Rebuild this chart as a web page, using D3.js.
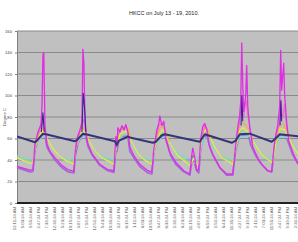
<!DOCTYPE html>
<html>
<head>
<meta charset="utf-8">
<script src="https://cdn.jsdelivr.net/npm/d3@7"></script>
<style>
  body { margin: 0; background: #fff; }
  svg { display: block; font-family: "Liberation Sans", Arial, sans-serif; }
</style>
</head>
<body>
<script>
// Chart data: hours since start of July 13 log, temperature in degrees C
const title = "HKCC on July 13 - 19, 2010.";
const yTitle = "Degree C";
const yTicks = [0, 20, 40, 60, 80, 100, 120, 140, 160];

const timeLabels = [
  "12:11:24 AM", "5:03:24 AM", "9:55:24 AM", "2:47:24 PM", "7:39:24 PM",
  "12:31:24 AM", "5:23:24 AM", "10:15:24 AM", "3:07:24 PM", "7:59:24 PM",
  "12:51:24 AM", "5:43:24 AM", "10:35:24 AM", "3:27:24 PM", "8:19:24 PM",
  "1:11:24 AM", "6:03:24 AM", "10:55:24 AM", "3:47:24 PM", "8:39:24 PM",
  "1:31:24 AM", "6:23:24 AM", "11:15:24 AM", "4:07:24 PM", "8:59:24 PM",
  "1:51:24 AM", "6:43:24 AM", "11:35:24 AM", "4:27:24 PM", "9:19:24 PM",
  "2:11:24 AM", "7:03:24 AM", "11:55:24 AM", "4:47:24 PM", "9:39:24 PM",
  "2:31:24 AM"
];

// each series: [hour, value] pairs, null = gap
const collectorLow = [
  [0,33],[7.8,29],[9.6,29.5],[10.8,50],[13,60],[15.6,64],[16.8,63],[18,52],[19.8,47],[22.8,40],[27,33],[30.6,29],[34.2,28],
  [34.8,42],[36.6,56],[39.6,64],[41.4,62],[42.6,53],[45,45],[49.8,35],[54.6,30],[58.2,28.5],
  [59.4,50],[60,48],[61.2,58],[64.2,62],[66.6,62],[67.8,48],[70.2,42],[73.8,34],[78.6,28],[81,27],
  [82.2,48],[84.6,60],[88.8,63],[90,56],[92.4,44],[95.4,36],[100.2,29],[103.8,26],[105,38],[105.8,44],[106.8,36],[108,30],[109.2,28],
  [110.4,52],[112.8,63],[114.6,60],[115.8,52],[117.6,45],[121.8,33],[126,26],[129.6,26],
  [131.4,50],[133.8,63],[139.2,62],[140.4,54],[143.4,44],[147,36],[150.6,30],[153,29],
  [154.8,52],[157.8,63],[161.4,63],[162.6,58],[165.6,45],[168.6,37],[170,35]
];

const collectorTop = [
  [0,34],[7.8,30.5],[9.6,31],[10.8,55],[12.6,66],[14.4,73],[15,90],[15.6,138],[16.1,140],[16.5,100],[16.8,72],[18,55],[19.8,48],[22.8,42],[27,35],[30.6,31],[34.2,29.5],
  [34.8,45],[36,60],[37.8,68],[39,75],[39.6,143],[40.2,130],[40.8,80],[41.4,63],[42.6,55],[45,46],[49.8,36],[54.6,31],[58.2,30],
  [59.4,62],[60,52],[60.6,70],[61.8,66],[63,72],[64.2,68],[65.4,73],[66.6,66],[67.8,52],[70.2,44],[73.8,36],[78.6,30],[81,29],
  [82.2,50],[84,68],[85.2,74],[85.8,81],[87,72],[88.2,76],[89.4,60],[91.8,47],[95.4,38],[100.2,30],[103.8,27],
  [105,45],[105.6,51],[106.8,42],[108,30],[109.2,32],
  [110.4,60],[111.6,71],[112.8,74],[114,68],[115.2,55],[117.6,45],[121.8,33],[126,27],[129.6,27],
  [131.4,55],[132.6,70],[133.8,82],[134.4,95],[135,149],[135.6,110],[136.2,85],[137.4,100],[138,128],[138.6,90],[139.8,70],[141.6,52],[145.8,38],[150.6,30],[153,29],
  [154.8,58],[156.6,72],[157.8,90],[158.4,142],[159,105],[160.2,130],[160.8,100],[162,75],[163.2,58],[166.2,45],[168.6,37],[170,35]
];

const collectorMid = [
  [10.8,54],[12.6,64],[14.4,71],[15.6,76],[16.8,66],[18,56], null,
  [35.4,52],[37.8,66],[39,72],[40.2,78],[41.4,64],[42.6,57], null,
  [59.4,58],[61.8,68],[63,70],[65.4,71],[66.6,66],[67.8,54], null,
  [82.8,54],[85.2,72],[87,74],[88.2,73],[89.4,62], null,
  [110.4,58],[112.8,72],[114,70],[115.2,58], null,
  [131.4,56],[133.8,76],[134.6,92],[135.4,84],[136.2,80],[137.6,96],[138.4,84],[139.8,72],[141.6,56], null,
  [155.4,60],[157.8,76],[158.6,96],[159.4,82],[160,80],[160.6,92],[162,70],[163.2,60]
];

const orange = [
  [10.8,52],[13.8,67],[15.6,70],[16.8,66],[18,60], null,
  [35.4,52],[37.8,67],[39.6,71],[41.4,66],[42.6,60], null,
  [59.4,52],[61.8,68],[64.2,69],[66.6,70],[68.4,60], null,
  [82.8,54],[85.8,70],[87.6,71],[89.4,66],[91.8,57], null,
  [110.4,56],[112.8,71],[114.6,68],[116,60], null,
  [131.4,55],[133.8,72],[136,75],[139.8,68],[141.6,58], null,
  [155.4,56],[157.8,73],[160,74],[162.6,65],[164,60]
];

const yellow = [
  [0,42],[7.8,37],[9.6,37],[10.8,52],[13.8,64],[15.6,67],[16.8,64],[18,60],[21,52],[24.6,45],[28.8,40],[34.2,36],
  [35.4,52],[37.8,64],[39.6,68],[41.4,64],[42.6,60],[46.2,50],[51,42],[58.2,36],
  [59.4,50],[61.8,64],[64.2,66],[66.6,67],[68.4,58],[72.6,46],[77.4,39],[81,36],
  [82.8,52],[85.8,65],[87.6,68],[89.4,64],[91.8,56],[96.6,44],[103.8,35],[105,38],[106.2,42],[108,36],[109.2,36],
  [110.4,54],[112.8,68],[114.6,66],[118.8,52],[123,42],[129.6,36],
  [131.4,52],[133.8,68],[136,70],[139.8,64],[142.8,55],[147,45],[151.8,39],[153.6,37],
  [155.4,54],[157.8,69],[161,68],[162.6,62],[165,55],[168.6,46],[170,45]
];

const green = [
  [0,43],[7.8,38.5],[9.6,38.5],[10.8,52],[13.8,62],[15.6,65],[16.8,63],[18,60],[21,52],[24.6,45],[28.8,41],[34.2,38],
  [35.4,52],[37.8,62],[39.6,66],[41.4,63],[42.6,60],[46.2,50],[51,42],[58.2,38],
  [59.4,50],[61.8,62],[64.2,64],[66.6,65],[68.4,57],[72.6,46],[77.4,40],[81,38],
  [82.8,52],[85.8,63],[87.6,66],[89.4,63],[91.8,56],[96.6,45],[103.8,37],[109.2,37],
  [110.4,53],[112.8,66],[114.6,64],[118.8,51],[123,43],[129.6,38],
  [131.4,52],[133.8,66],[136,67],[139.8,63],[142.8,55],[147,45],[151.8,40],[153.6,38],
  [155.4,53],[157.8,67],[161,66],[162.6,61],[165,55],[168.6,47],[170,46]
];

const cyan = [
  [0,44],[7.8,40],[9.6,40],[10.8,52],[13.8,60],[16.2,62],[18,60],[21,52],[24.6,45],[28.8,41],[34.2,40],
  [35.4,52],[37.8,60],[40.8,62],[42.6,60],[46.2,50],[51,43],[58.2,40],
  [59.4,50],[61.8,60],[66.6,62],[68.4,56],[72.6,45],[77.4,41],[81,40],
  [82.8,52],[85.8,60],[89.4,62],[91.8,56],[96.6,46],[101.4,42],[109.2,40],
  [110.4,52],[112.8,61],[115.2,60],[118.8,50],[123,43],[129.6,40],
  [131.4,52],[133.8,62],[139.8,62],[142.8,54],[147,45],[151.8,41],[153.6,40],
  [155.4,52],[157.8,62],[162.6,61],[165,55],[168.6,48],[170,47]
];

const indigo = [
  [14.6,66],[15.6,84],[16.4,66], null,
  [39,66],[39.8,102],[40.6,88],[41.4,66], null,
  [134.6,72],[135.1,100],[135.6,76], null,
  [158,72],[158.5,95],[159,76]
];

const tank = [
  [0,62],[10.8,56.5],[12,58],[15.6,64.5],[17.4,64],[34.8,57.5],[36,58.5],[39.6,64.5],[41.4,64],
  [58.8,57.5],[60,54],[61.2,58],[64.2,60],[66.6,62],[67.8,61],[81.6,56],[83.4,57],[87,63],[88.8,64],
  [109.8,57],[112.8,64],[129,56],[131.4,58],[133.8,64],[139.8,64.5],[153,57],[155.4,60],[157.8,64],[168.6,62],[170,61.7]
];

const series = [
  { data: collectorLow, color: "#a26ad8", width: 1.8 },
  { data: cyan, color: "#72d9e6", width: 1.1 },
  { data: green, color: "#92e074", width: 1.1 },
  { data: yellow, color: "#ecea4c", width: 1.1 },
  { data: orange, color: "#f4a93a", width: 1.1 },
  { data: collectorMid, color: "#f06acb", width: 1.1 },
  { data: collectorTop, color: "#e02fe2", width: 1.3 },
  { data: indigo, color: "#3d2296", width: 1.1 },
  { data: tank, color: "#33357a", width: 2 }
];

const W = 298, H = 242;
const plot = { left: 17, top: 31, bottom: 203, right: 300 };

const svg = d3.select("body").append("svg")
  .attr("width", W)
  .attr("height", H);

const x = d3.scaleLinear().domain([0, 170]).range([plot.left, plot.right]);
const y = d3.scaleLinear().domain([0, 160]).range([plot.bottom, plot.top]);

// plot area background
svg.append("rect")
  .attr("x", plot.left)
  .attr("y", plot.top)
  .attr("width", plot.right - plot.left)
  .attr("height", plot.bottom - plot.top)
  .attr("fill", "#c0c0c0");

// gridlines
svg.append("g")
  .selectAll("line")
  .data(yTicks.slice(1))
  .join("line")
  .attr("x1", plot.left)
  .attr("x2", plot.right)
  .attr("y1", d => y(d))
  .attr("y2", d => y(d))
  .attr("stroke", "#8a8a8a")
  .attr("stroke-width", 1);

// y axis
const yAxis = svg.append("g")
  .attr("transform", `translate(${plot.left},0)`)
  .call(d3.axisLeft(y).tickValues(yTicks).tickSize(2).tickPadding(3));
yAxis.select(".domain").attr("stroke", "#808080");
yAxis.selectAll(".tick line").attr("stroke", "#808080");
yAxis.selectAll("text")
  .attr("font-size", 4.2)
  .attr("fill", "#444");

svg.append("text")
  .attr("transform", `translate(6,${(plot.top + plot.bottom) / 2}) rotate(-90)`)
  .attr("text-anchor", "middle")
  .attr("font-size", 4.2)
  .attr("fill", "#444")
  .text(yTitle);

// series lines
svg.append("clipPath").attr("id", "clip")
  .append("rect")
  .attr("x", plot.left)
  .attr("y", plot.top)
  .attr("width", plot.right - plot.left)
  .attr("height", plot.bottom - plot.top);

const line = d3.line()
  .defined(d => d !== null)
  .x(d => x(d[0]))
  .y(d => y(d[1]));

svg.append("g")
  .attr("clip-path", "url(#clip)")
  .selectAll("path")
  .data(series)
  .join("path")
  .attr("d", d => line(d.data))
  .attr("fill", "none")
  .attr("stroke", d => d.color)
  .attr("stroke-width", d => d.width)
  .attr("stroke-linejoin", "round");

// x axis: thick base line and rotated time labels
svg.append("line")
  .attr("x1", plot.left)
  .attr("x2", plot.right)
  .attr("y1", plot.bottom)
  .attr("y2", plot.bottom)
  .attr("stroke", "#222")
  .attr("stroke-width", 2);

const labelStep = 4.806;
svg.append("g")
  .selectAll("text")
  .data(timeLabels)
  .join("text")
  .attr("transform", (d, i) => `translate(${x(i * labelStep - 1.2)},${plot.bottom + 4}) rotate(-90)`)
  .attr("dy", "0.35em")
  .attr("text-anchor", "end")
  .attr("font-size", 4.2)
  .attr("fill", "#555")
  .text(d => d);

// title
svg.append("text")
  .attr("x", 164)
  .attr("y", 15)
  .attr("text-anchor", "middle")
  .attr("font-size", 5.5)
  .attr("fill", "#222")
  .text(title);
</script>
</body>
</html>
